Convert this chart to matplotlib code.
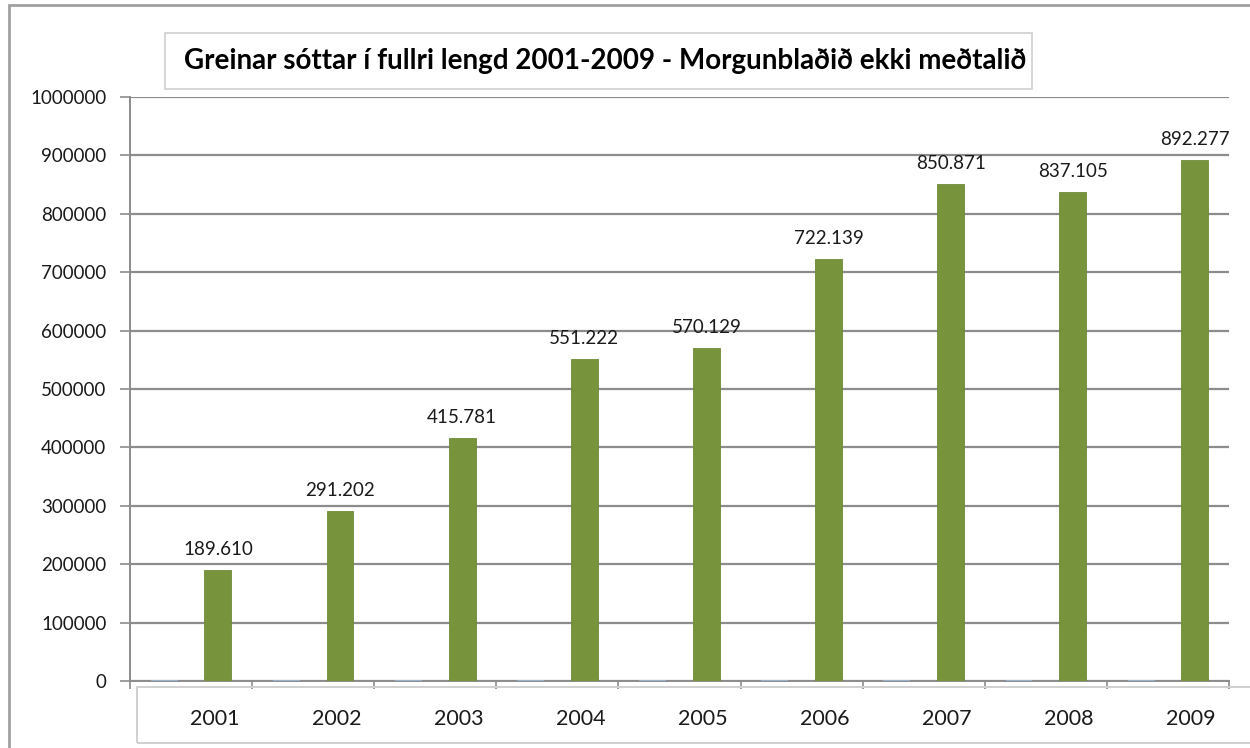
import numpy as np
import matplotlib
matplotlib.use("Agg")
import matplotlib.pyplot as plt
from matplotlib.patches import Rectangle
from matplotlib.ticker import MultipleLocator, FixedLocator

plt.rcParams["font.family"] = ["Lato", "DejaVu Sans"]

# ── data ──
years = ["2001", "2002", "2003", "2004", "2005", "2006", "2007", "2008", "2009"]
articles = [189610, 291202, 415781, 551222, 570129, 722139, 850871, 837105, 892277]
other_series = [0, 0, 0, 0, 0, 0, 0, 0, 0]
title = "Greinar sóttar í fullri lengd 2001-2009 - Morgunblaðið ekki meðtalið"

GREEN = "#77933C"
BLUE = "#9DB9DC"
GRID = "#8C8C8C"

W, H = 1250, 748
fig = plt.figure(figsize=(W / 100, H / 100), dpi=100)

ax = fig.add_axes([130 / W, 1 - 681 / H, (1229 - 130) / W, (681 - 97) / H])

x = np.arange(len(years))
bw = 0.22
ax.bar(x - bw, other_series, width=bw, color=BLUE, edgecolor=BLUE, linewidth=1.2, zorder=3)
ax.bar(x + bw, articles, width=bw, color=GREEN, edgecolor="#6E8A38", linewidth=0.6, zorder=3)

for xi, v in zip(x, articles):
    lbl = f"{v:,}".replace(",", ".")
    ax.annotate(lbl, (xi + bw, v), xytext=(0, 11), textcoords="offset points",
                ha="center", va="baseline", fontsize=13.5, color="#1a1a1a")

ax.set_xlim(-0.5, len(years) - 0.5)
ax.set_ylim(0, 1000000)
ax.yaxis.set_major_locator(MultipleLocator(100000))
ax.yaxis.set_major_formatter(matplotlib.ticker.FuncFormatter(lambda v, p: f"{int(v)}"))
ax.grid(axis="y", color=GRID, linewidth=1.6, zorder=0)
ax.set_axisbelow(True)

# category labels sit a little right of the category centres
ax.xaxis.set_major_locator(FixedLocator(x + 0.19))
ax.set_xticklabels(years)
ax.xaxis.set_minor_locator(FixedLocator(np.arange(len(years) + 1) - 0.5))
ax.tick_params(axis="x", which="major", length=0, pad=20, labelsize=15.5, labelcolor="#1a1a1a")
ax.tick_params(axis="x", which="minor", length=6, color=GRID, width=1.2, direction="out")
ax.tick_params(axis="y", length=7, color=GRID, width=1.2, pad=10, labelsize=13.5, labelcolor="#1a1a1a")

for s in ["top", "right"]:
    ax.spines[s].set_visible(False)
for s in ["left", "bottom"]:
    ax.spines[s].set_color(GRID)
    ax.spines[s].set_linewidth(1.4)

# outer chart frame, category box and title box
def px_rect(x0, y0, x1, y1, ec, lw):
    fig.patches.append(Rectangle((x0 / W, 1 - y1 / H), (x1 - x0) / W, (y1 - y0) / H,
                                 transform=fig.transFigure, fill=False, ec=ec, lw=lw, zorder=0))

px_rect(9, 5, 1270, 770, "#A0A0A0", 2.0)
px_rect(137, 687, 1270, 743, "#D0D0D0", 1.4)
px_rect(165, 33, 1032, 89, "#D0D0D0", 1.2)

fig.text(605 / W, 1 - 61 / H, title, ha="center", va="center",
         fontsize=20, fontweight="bold", color="#000000")

fig.savefig("out.png", dpi=100)
